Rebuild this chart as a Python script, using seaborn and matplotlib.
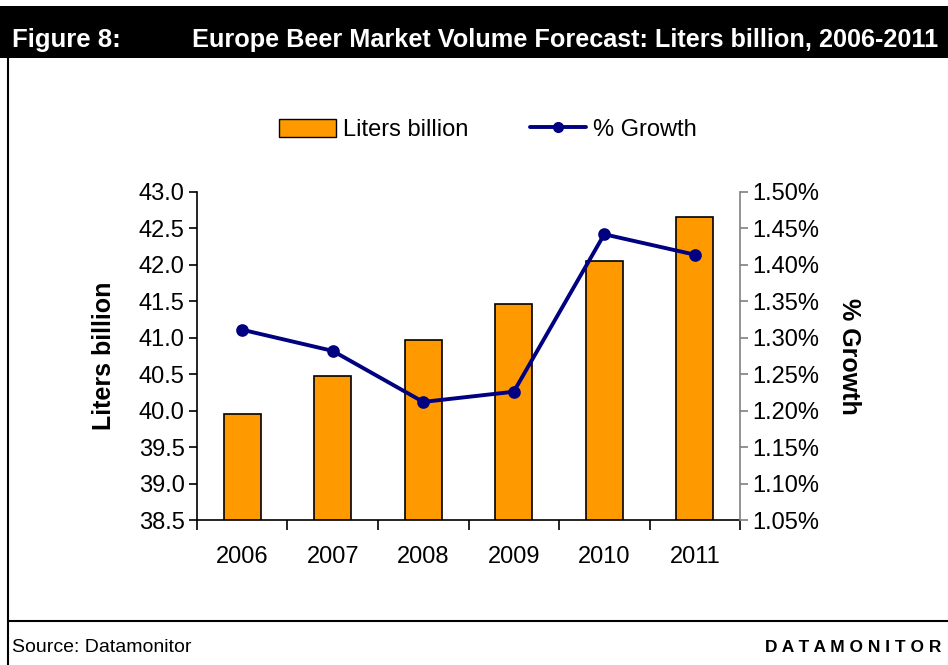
import pandas as pd
import seaborn as sns
import matplotlib
matplotlib.use("Agg")
import matplotlib.pyplot as plt
from matplotlib.lines import Line2D
from matplotlib.patches import Patch, Rectangle
from matplotlib.ticker import FuncFormatter, MultipleLocator

# --- data ---
years = ["2006", "2007", "2008", "2009", "2010", "2011"]
liters_billion = [39.96, 40.48, 40.97, 41.46, 42.05, 42.66]
growth_pct = [1.311, 1.282, 1.212, 1.226, 1.442, 1.414]

df = pd.DataFrame({"year": years, "liters": liters_billion, "growth": growth_pct})

sns.set_style("white")
plt.rcParams["font.family"] = ["Liberation Sans", "DejaVu Sans"]
for k in ("text.color", "axes.labelcolor", "xtick.color", "ytick.color"):
    plt.rcParams[k] = "black"

BAR_COLOR = "#FF9900"
LINE_COLOR = "#000080"

fig = plt.figure(figsize=(9.48, 6.65), dpi=100)
ax = fig.add_axes([0.2078, 0.218, 0.5728, 0.4933])

# --- bars ---
sns.barplot(data=df, x="year", y="liters", color=BAR_COLOR, edgecolor="black",
            linewidth=1.2, width=0.41, saturation=1, ax=ax)
ax.set_ylim(38.5, 43.0)
ax.yaxis.set_major_locator(MultipleLocator(0.5))
ax.yaxis.set_major_formatter(FuncFormatter(lambda v, p: f"{v:.1f}"))
ax.set_xlabel("")
ax.set_ylabel("Liters billion", fontsize=18, fontweight="bold", labelpad=16)

# --- growth line on twin axis ---
ax2 = ax.twinx()
sns.pointplot(data=df, x="year", y="growth", color=LINE_COLOR, markers="o",
              linestyles="-", markersize=7, linewidth=2.8, ax=ax2)
ax2.set_ylim(1.05, 1.50)
ax2.yaxis.set_major_locator(MultipleLocator(0.05))
ax2.yaxis.set_major_formatter(FuncFormatter(lambda v, p: f"{v:.2f}%"))
ax2.set_ylabel("% Growth", fontsize=18, fontweight="bold", rotation=-90, labelpad=30)
ax2.set_xlim(-0.5, len(years) - 0.5)
ax.set_xlim(-0.5, len(years) - 0.5)

# spines / ticks
for a in (ax, ax2):
    for s in a.spines.values():
        s.set_visible(False)
ax.spines["left"].set_visible(True)
ax.spines["bottom"].set_visible(True)
ax2.spines["right"].set_visible(True)
ax.spines["left"].set_color("black")
ax.spines["bottom"].set_color("black")
ax2.spines["right"].set_color("#808080")
ax.spines["left"].set_linewidth(1.2)
ax.spines["bottom"].set_linewidth(1.2)
ax2.spines["right"].set_linewidth(1.2)

ax.tick_params(axis="y", direction="out", length=6, width=1.2, labelsize=17, pad=3, left=True)
ax2.tick_params(axis="y", direction="out", length=6, width=1.2, labelsize=17, pad=3,
                right=True, color="#808080")
# x ticks between categories, labels centred under bars
ax.set_xticks([i - 0.5 for i in range(len(years) + 1)])
ax.set_xticklabels([])
ax.set_xticks(range(len(years)), minor=True)
ax.set_xticklabels(years, minor=True)
ax.tick_params(axis="x", which="major", direction="out", length=7, width=1.2, bottom=True)
ax.tick_params(axis="x", which="minor", length=0, labelsize=17, pad=19)

# legend
handles = [Patch(facecolor=BAR_COLOR, edgecolor="black", label="Liters billion"),
           Line2D([0], [0], color=LINE_COLOR, lw=2.8, marker="o", markersize=7, label="% Growth")]
fig.legend(handles=handles, loc="center", bbox_to_anchor=(0.515, 0.805), ncol=2,
           frameon=False, fontsize=17, handlelength=2.4, handleheight=0.8,
           columnspacing=2.6, handletextpad=0.3)

# --- header / frame ---
fig.add_artist(Rectangle((0, 1 - 58 / 665), 1, 52 / 665, transform=fig.transFigure,
                         facecolor="black", edgecolor="none"))
fig.text(12 / 948, 1 - 40 / 665, "Figure 8:", color="white", fontsize=18.5,
         fontweight="bold", va="center", ha="left")
fig.text(192 / 948, 1 - 40 / 665, "Europe Beer Market Volume Forecast: Liters billion, 2006-2011",
         color="white", fontsize=18.2, fontweight="bold", va="center", ha="left")
fig.add_artist(Line2D([8 / 948, 8 / 948], [0, 1 - 58 / 665], transform=fig.transFigure,
                      color="black", lw=1.5))
fig.add_artist(Line2D([8 / 948, 1], [1 - 621 / 665, 1 - 621 / 665], transform=fig.transFigure,
                      color="black", lw=1.5))
fig.text(12 / 948, 1 - 648 / 665, "Source: Datamonitor", fontsize=14, va="center", ha="left")
fig.text(765 / 948, 1 - 648 / 665, "D A T A M O N I T O R", fontsize=12.5, fontweight="bold",
         va="center", ha="left")

fig.savefig("out.png", dpi=100)
